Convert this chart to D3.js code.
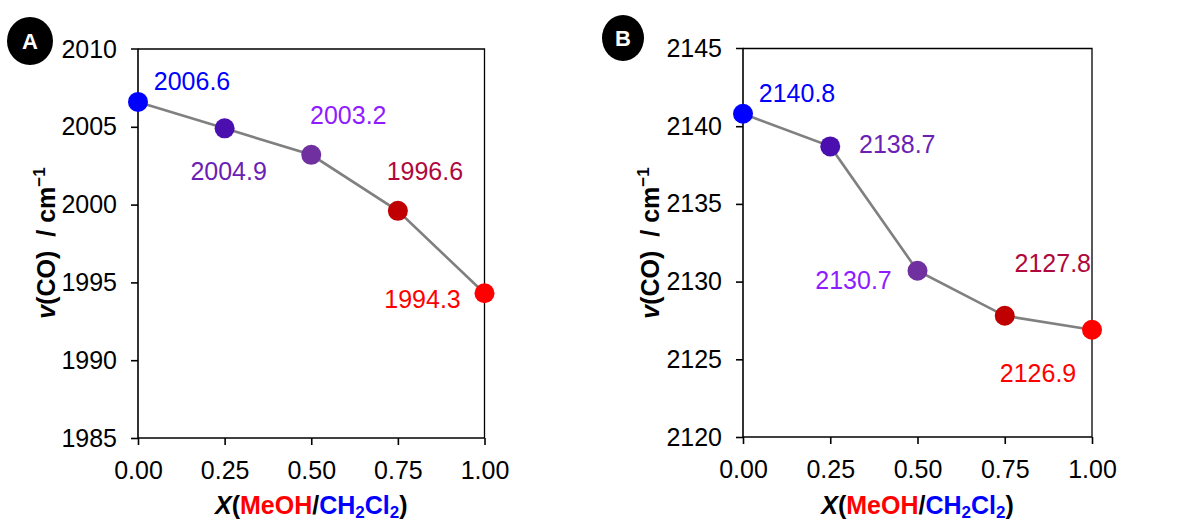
<!DOCTYPE html>
<html>
<head>
<meta charset="utf-8">
<script src="https://cdn.jsdelivr.net/npm/d3@7"></script>
<style>
  body { margin: 0; background: #fff; }
  svg text { font-family: Arial, "Liberation Sans", sans-serif; }
</style>
</head>
<body>
<div id="graf"></div>
<script>
// I. Datos
fracciones = [0, 0.25, 0.5, 0.75, 1]
// valores graficados (posición del punto) y texto de cada etiqueta
valoresA = [2006.6, 2004.9, 2003.2, 1999.6, 1994.3]
etiquetasA = ['2006.6', '2004.9', '2003.2', '1996.6', '1994.3']
valoresB = [2140.8, 2138.7, 2130.7, 2127.8, 2126.9]
etiquetasB = ['2140.8', '2138.7', '2130.7', '2127.8', '2126.9']
ticksX = [0, 0.25, 0.5, 0.75, 1]
ticksA = [1985, 1990, 1995, 2000, 2005, 2010]
ticksB = [2120, 2125, 2130, 2135, 2140, 2145]

// colores de puntos y etiquetas
colorPunto = ['#0000ff', '#4b0fb0', '#7030a0', '#c00000', '#ff0000']
colorEtiqueta = ['#0000ff', '#6a1fb5', '#8f1cff', '#b0083c', '#ff0000']

// II. Configuración
ancho_total = 1192
alto_total = 522
fs = 25

svg = d3.select('#graf').append('svg')
        .attr('width', ancho_total)
        .attr('height', alto_total)

// desplazamiento de las etiquetas respecto al punto (dx, dy)
offsetsA = [[54, -12], [4, 52], [37, -31], [27, -31], [-62, 15]]
offsetsB = [[54, -12], [67, 7], [-64, 18], [48, -44], [-54, 52]]

function panel(cfg) {
  x = d3.scaleLinear().domain([0, 1]).range([cfg.left, cfg.right])
  y = d3.scaleLinear().domain(cfg.dominio).range([cfg.bottom, cfg.top])

  g = svg.append('g')

  // marco superior y derecho
  g.append('path')
   .attr('d', `M${cfg.left},${cfg.top}H${cfg.right}V${cfg.bottom}`)
   .attr('fill', 'none')
   .attr('stroke', '#000')
   .attr('stroke-width', 1.3)

  ejeY = g.append('g')
          .attr('transform', `translate(${cfg.left},0)`)
          .call(d3.axisLeft(y).tickValues(cfg.ticks).tickSize(7).tickPadding(14).tickFormat(d3.format('d')))
  ejeX = g.append('g')
          .attr('transform', `translate(0,${cfg.bottom})`)
          .call(d3.axisBottom(x).tickValues(ticksX).tickSize(7).tickPadding(16).tickFormat(d3.format('.2f')))

  ;[ejeY, ejeX].forEach(e => {
    e.select('.domain').attr('stroke-width', 1.6).attr('d', e === ejeY
      ? `M-7,${cfg.top}H0V${cfg.bottom}` : `M${cfg.left},0H${cfg.right}`)
    e.selectAll('.tick line').attr('stroke-width', 1.6)
    e.selectAll('text').attr('font-size', fs).attr('fill', '#000')
  })
  ejeY.selectAll('.tick').filter(d => d === cfg.dominio[1]).select('line').remove()

  linea = d3.line().x((d, i) => x(fracciones[i])).y(d => y(d))
  g.append('path')
   .datum(cfg.valores)
   .attr('d', linea)
   .attr('fill', 'none')
   .attr('stroke', '#808080')
   .attr('stroke-width', 2.6)

  g.selectAll('circle.p')
   .data(cfg.valores)
   .enter().append('circle')
     .attr('class', 'p')
     .attr('cx', (d, i) => x(fracciones[i]))
     .attr('cy', d => y(d))
     .attr('r', 10)
     .attr('fill', (d, i) => colorPunto[i])

  g.selectAll('text.et')
   .data(cfg.valores)
   .enter().append('text')
     .attr('class', 'et')
     .attr('x', (d, i) => x(fracciones[i]) + cfg.offsets[i][0])
     .attr('y', (d, i) => y(d) + cfg.offsets[i][1])
     .attr('text-anchor', 'middle')
     .attr('font-size', fs)
     .attr('fill', (d, i) => colorEtiqueta[i])
     .text((d, i) => cfg.etiquetas[i])

  // título eje x
  tx = g.append('text')
        .attr('x', (cfg.left + cfg.right) / 2)
        .attr('y', 514)
        .attr('text-anchor', 'middle')
        .attr('font-size', fs)
        .attr('font-weight', 'bold')
  tx.append('tspan').attr('font-style', 'italic').text('X')
  tx.append('tspan').text('(')
  tx.append('tspan').attr('fill', '#ff0000').text('MeOH')
  tx.append('tspan').text('/')
  tx.append('tspan').attr('fill', '#0000ff').text('CH')
  tx.append('tspan').attr('fill', '#0000ff').attr('font-size', 17).attr('dy', 4).text('2')
  tx.append('tspan').attr('fill', '#0000ff').attr('dy', -4).text('Cl')
  tx.append('tspan').attr('fill', '#0000ff').attr('font-size', 17).attr('dy', 4).text('2')
  tx.append('tspan').attr('dy', -4).text(')')

  // título eje y
  ty = g.append('text')
        .attr('transform', `translate(${cfg.tituloY},243) rotate(-90)`)
        .attr('text-anchor', 'middle')
        .attr('font-size', fs)
        .attr('font-weight', 'bold')
  ty.append('tspan').attr('font-style', 'italic').text('v')
  ty.append('tspan').text('(CO)\u00a0\u00a0/ cm')
  ty.append('tspan').attr('font-size', 17).attr('dy', -10).text('\u22121')

  // etiqueta del panel
  g.append('ellipse')
   .attr('cx', cfg.letra[0]).attr('cy', cfg.letra[1])
   .attr('rx', cfg.letra[2]).attr('ry', cfg.letra[3])
   .attr('fill', '#000')
  g.append('text')
   .attr('x', cfg.letra[0]).attr('y', cfg.letra[1] + 8)
   .attr('text-anchor', 'middle')
   .attr('font-size', 22)
   .attr('font-weight', 'bold')
   .attr('fill', '#fff')
   .text(cfg.nombre)
}

// III. Despliegue
panel({ nombre: 'A', valores: valoresA, etiquetas: etiquetasA, dominio: [1985, 2010], ticks: ticksA,
        left: 138, right: 484.5, top: 49, bottom: 438, offsets: offsetsA,
        tituloY: 55, letra: [30, 41, 23, 24] })
panel({ nombre: 'B', valores: valoresB, etiquetas: etiquetasB, dominio: [2120, 2145], ticks: ticksB,
        left: 743, right: 1092, top: 48.5, bottom: 437, offsets: offsetsB,
        tituloY: 659, letra: [623, 38, 21, 23] })
</script>
</body>
</html>
